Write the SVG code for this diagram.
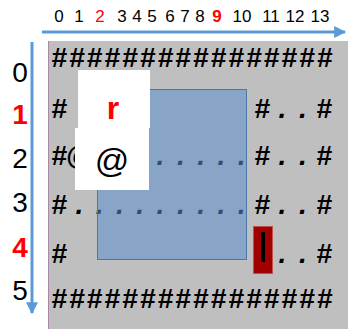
<svg xmlns="http://www.w3.org/2000/svg" width="348" height="329" viewBox="0 0 348 329">
<style>
.ax{font-family:"Liberation Sans",Arial,sans-serif;font-size:17px;fill:#000;text-anchor:middle}
.rl{font-family:"Liberation Sans",Arial,sans-serif;font-size:28px;fill:#000;text-anchor:middle}
.red{fill:#ff0000;font-weight:bold}
.g{font-family:"Liberation Sans",Arial,sans-serif;font-size:28px;font-weight:bold;font-style:italic;fill:#000;text-anchor:middle}
.arr{stroke:#5b9bd5;stroke-width:3;fill:none}
</style>
<defs>
<marker id="ah" viewBox="0 0 10 10" refX="9" refY="5" markerWidth="4" markerHeight="4" orient="auto" markerUnits="strokeWidth">
<path d="M0,0 L10,5 L0,10 z" fill="#5b9bd5"/>
</marker>
</defs>
<rect x="0" y="0" width="348" height="329" fill="#ffffff"/>
<g id="grid">
<rect x="48" y="41" width="300" height="288" fill="#bfbfbf"/>
<line x1="48.5" y1="41" x2="48.5" y2="329" stroke="#a888a8" stroke-width="1"/>
<text class="g" x="59 76.7 94.4 112.1 129.8 147.5 165.2 182.9 200.6 218.3 236 253.7 271.4 289.1 306.8 324.5" y="67">################</text>
<text class="g" x="59 262 282.5 302.8 324" y="118">##..#</text>
<text class="g" x="59 79.3 160.5 180.8 201.1 221.4 241.7 262 282.5 302.8 324" y="165">#@.....#..#</text>
<text class="g" x="59 79.3 99.6 119.9 140.2 160.5 180.8 201.1 221.4 241.7 262 282.5 302.8 324" y="214">#.........#..#</text>
<text class="g" x="59 282.5 302.8 324" y="263">#..#</text>
<text class="g" x="59 76.7 94.4 112.1 129.8 147.5 165.2 182.9 200.6 218.3 236 253.7 271.4 289.1 306.8 324.5" y="308">################</text>
</g>
<g id="room">
<rect x="97.5" y="89.5" width="149" height="170" fill="#5b8fd0" fill-opacity="0.55" stroke="#4a78ad" stroke-width="1"/>
</g>
<g id="door">
<rect x="253.5" y="226.5" width="19" height="47" fill="#a00000" stroke="#c0504d" stroke-width="1"/>
<rect x="261" y="232" width="4" height="30" fill="#000"/>
</g>
<g id="rogue">
<rect x="78" y="70" width="72" height="58" fill="#ffffff"/>
<text x="113" y="119" font-family="'Liberation Sans',Arial,sans-serif" font-size="32" font-weight="bold" fill="#ff0000" text-anchor="middle">r</text>
</g>
<g id="player">
<rect x="75" y="128" width="74" height="62" fill="#ffffff"/>
<text x="112" y="172" font-family="'Liberation Sans',Arial,sans-serif" font-size="34" fill="#000" text-anchor="middle">@</text>
</g>
<g id="connectors">
<line class="arr" x1="42" y1="32" x2="345" y2="32" marker-end="url(#ah)"/>
<line class="arr" x1="32" y1="42" x2="32" y2="313" marker-end="url(#ah)"/>
</g>
<g id="axis-x">
<text class="ax" x="59" y="22">0</text>
<text class="ax" x="79" y="22">1</text>
<text class="ax" x="100" y="22" style="fill:#ff0000">2</text>
<text class="ax" x="122" y="22">3</text>
<text class="ax" x="137" y="22">4</text>
<text class="ax" x="152" y="22">5</text>
<text class="ax" x="170" y="22">6</text>
<text class="ax" x="185" y="22">7</text>
<text class="ax" x="200" y="22">8</text>
<text class="ax red" x="217" y="22">9</text>
<text class="ax" x="242" y="22">10</text>
<text class="ax" x="271" y="22">11</text>
<text class="ax" x="295" y="22">12</text>
<text class="ax" x="320" y="22">13</text>
</g>
<g id="axis-y">
<text class="rl" x="20" y="82">0</text>
<text class="rl red" x="20" y="124">1</text>
<text class="rl" x="20" y="168">2</text>
<text class="rl" x="20" y="212">3</text>
<text class="rl red" x="20" y="257">4</text>
<text class="rl" x="20" y="300">5</text>
</g>
</svg>
